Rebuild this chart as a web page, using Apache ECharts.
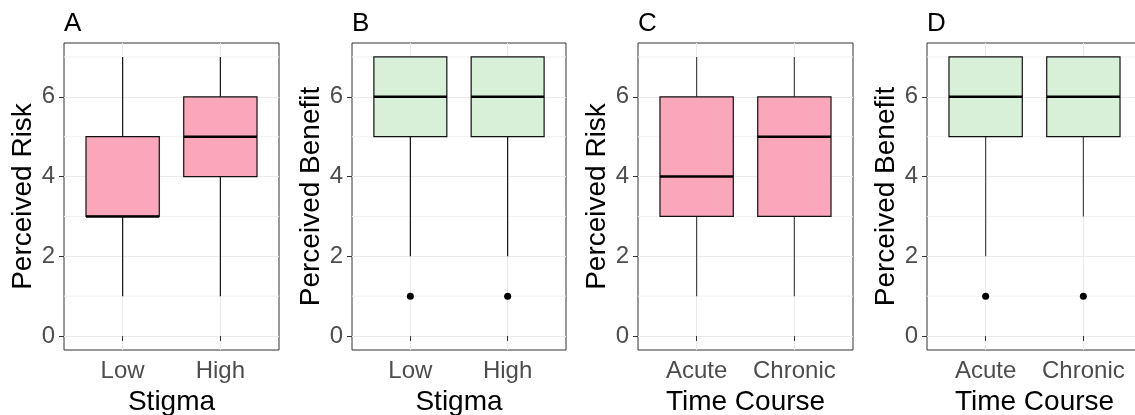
<!DOCTYPE html>
<html>
<head>
<meta charset="utf-8">
<script src="https://cdn.jsdelivr.net/npm/echarts@6/dist/echarts.min.js"></script>
<style>
html,body{margin:0;padding:0;background:#fff;}
#chart{width:1135px;height:415px;}
</style>
</head>
<body>
<div id="chart"></div>
<script>
// ---- data (whisker low, Q1, median, Q3, whisker high) ----
const panelLetters = ['A', 'B', 'C', 'D'];
const stigmaCats = ['Low', 'High'];
const timeCats = ['Acute', 'Chronic'];
const riskStigma = [[1, 3, 3, 5, 7], [1, 4, 5, 6, 7]];
const benefitStigma = [[2, 5, 6, 7, 7], [2, 5, 6, 7, 7]];
const riskTime = [[1, 3, 4, 6, 7], [1, 3, 5, 6, 7]];
const benefitTime = [[2, 5, 6, 7, 7], [3, 5, 6, 7, 7]];
// outliers: [category position, value]
const benefitStigmaOutliers = [[1, 1], [2, 1]];
const benefitTimeOutliers = [[1, 1], [2, 1]];
const yTicks = [0, 2, 4, 6];
const yMinor = [1, 3, 5, 7];
const xTicks = [1, 2];

// ---- layout / style ----
const X_MIN = 0.4, X_MAX = 2.6, Y_MIN = -0.35, Y_MAX = 7.35;
const PINK = '#FAA7BB', GREEN = '#D7F0D7';
const FONT = 'Liberation Sans, Arial, sans-serif';

const panels = [
  { cats: stigmaCats, data: riskStigma, out: [], fill: PINK, xName: 'Stigma', yName: 'Perceived Risk', left: 64, width: 215, whisker: '#111' },
  { cats: stigmaCats, data: benefitStigma, out: benefitStigmaOutliers, fill: GREEN, xName: 'Stigma', yName: 'Perceived Benefit', left: 352, width: 214, whisker: '#111' },
  { cats: timeCats, data: riskTime, out: [], fill: PINK, xName: 'Time Course', yName: 'Perceived Risk', left: 638, width: 215, whisker: '#444' },
  { cats: timeCats, data: benefitTime, out: benefitTimeOutliers, fill: GREEN, xName: 'Time Course', yName: 'Perceived Benefit', left: 927, width: 215, whisker: '#444' }
];

const TOP = 43, HEIGHT = 307;

const grids = [], xAxes = [], yAxes = [], series = [], titles = [];

panels.forEach((p, i) => {
  grids.push({
    left: p.left, top: TOP, width: p.width, height: HEIGHT,
    show: true, borderColor: '#333333', borderWidth: 1, backgroundColor: '#fff',
    containLabel: false, outerBoundsMode: 'none'
  });
  titles.push({
    text: panelLetters[i], left: p.left, top: 11, padding: 0,
    textStyle: { fontFamily: FONT, fontSize: 26, fontWeight: 'normal', color: '#000' }
  });
  xAxes.push({
    type: 'value', gridIndex: i, min: X_MIN, max: X_MAX,
    name: p.xName, nameLocation: 'middle', nameGap: 34,
    nameTextStyle: { fontFamily: FONT, fontSize: 28, color: '#000' },
    axisLine: { show: false },
    axisTick: { show: true, length: 5, customValues: xTicks, lineStyle: { color: '#333', width: 1 } },
    axisLabel: {
      customValues: xTicks, margin: 9, fontFamily: FONT, fontSize: 24, color: '#4D4D4D',
      formatter: (v) => p.cats[Math.round(v) - 1]
    },
    splitLine: { show: true, lineStyle: { color: '#EBEBEB', width: 1 } }
  });
  yAxes.push({
    type: 'value', gridIndex: i, min: Y_MIN, max: Y_MAX,
    name: p.yName, nameLocation: 'middle', nameGap: 26, nameRotate: 90,
    nameTextStyle: { fontFamily: FONT, fontSize: 28, color: '#000' },
    axisLine: { show: false },
    axisTick: { show: true, length: 5, customValues: yTicks, lineStyle: { color: '#333', width: 1 } },
    axisLabel: { customValues: yTicks, margin: 9, fontFamily: FONT, fontSize: 24, color: '#4D4D4D' },
    splitLine: { show: true, lineStyle: { color: '#EBEBEB', width: 1 } }
  });
  // minor horizontal grid lines
  series.push({
    type: 'custom', xAxisIndex: i, yAxisIndex: i, silent: true, z: 1,
    data: yMinor.map(v => [v]),
    renderItem: (params, api) => {
      const v = api.value(0);
      const a = api.coord([X_MIN, v]), b = api.coord([X_MAX, v]);
      return { type: 'line', shape: { x1: a[0], y1: a[1], x2: b[0], y2: b[1] },
        style: { stroke: '#F0F0F0', lineWidth: 1 } };
    },
    encode: { y: 0 }
  });
  // boxes
  series.push({
    type: 'custom', xAxisIndex: i, yAxisIndex: i, silent: true, z: 3,
    data: p.data.map((d, k) => [k + 1].concat(d)),
    encode: { x: 0, y: [1, 2, 3, 4, 5] },
    renderItem: (params, api) => {
      const x = api.value(0);
      const lo = api.coord([x, api.value(1)]);
      const q1 = api.coord([x, api.value(2)]);
      const md = api.coord([x, api.value(3)]);
      const q3 = api.coord([x, api.value(4)]);
      const hi = api.coord([x, api.value(5)]);
      const hw = api.size([0.75, 0])[0] / 2;
      return {
        type: 'group',
        children: [
          { type: 'line', shape: { x1: lo[0], y1: lo[1], x2: q1[0], y2: q1[1] }, style: { stroke: p.whisker, lineWidth: 1.2 } },
          { type: 'line', shape: { x1: q3[0], y1: q3[1], x2: hi[0], y2: hi[1] }, style: { stroke: p.whisker, lineWidth: 1.2 } },
          { type: 'rect', shape: { x: q3[0] - hw, y: q3[1], width: hw * 2, height: q1[1] - q3[1] }, style: { fill: p.fill, stroke: '#111', lineWidth: 1.2 } },
          { type: 'line', shape: { x1: md[0] - hw, y1: md[1], x2: md[0] + hw, y2: md[1] }, style: { stroke: '#000', lineWidth: 2.6 } }
        ]
      };
    }
  });
  if (p.out.length) {
    series.push({
      type: 'scatter', xAxisIndex: i, yAxisIndex: i, silent: true, z: 4,
      data: p.out, symbol: 'circle', symbolSize: 7,
      itemStyle: { color: '#000', opacity: 1 }
    });
  }
});

const chart = echarts.init(document.getElementById('chart'), null, { renderer: 'canvas' });
chart.setOption({
  animation: false,
  backgroundColor: '#fff',
  title: titles,
  grid: grids,
  xAxis: xAxes,
  yAxis: yAxes,
  series: series
});
</script>
</body>
</html>
